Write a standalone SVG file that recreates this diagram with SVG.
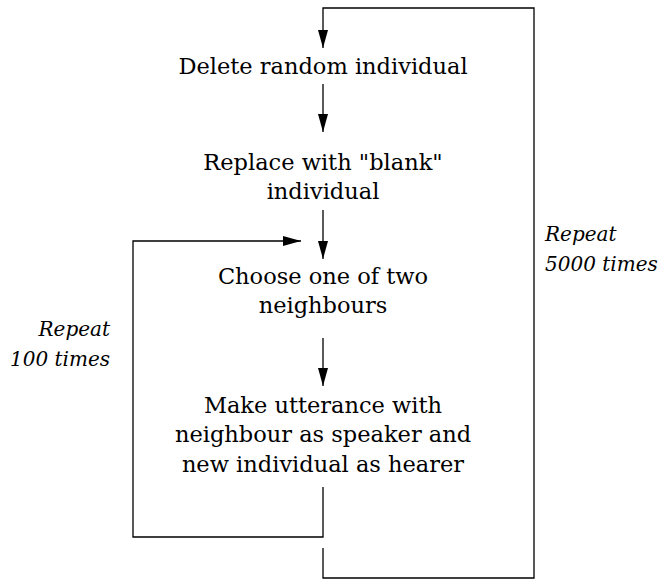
<svg xmlns="http://www.w3.org/2000/svg" width="658" height="581" viewBox="0 0 658 581">
<defs>
<marker id="ah" markerWidth="18" markerHeight="10" refX="18" refY="5" orient="auto" markerUnits="userSpaceOnUse" viewBox="0 0 18 10">
<path d="M0,0 L18,5 L0,10 Z" fill="#000"/>
</marker>
<style>
.t{font-family:"DejaVu Serif","Liberation Serif",serif;font-size:22.5px;fill:#000;text-anchor:middle}
.i{font-family:"DejaVu Serif","Liberation Serif",serif;font-size:20px;font-style:italic;fill:#000}
.c{fill:none;stroke:#000;stroke-width:1.3}
</style>
</defs>
<rect width="658" height="581" fill="#fff"/>
<g id="connectors">
<path class="c" d="M323,548 V578 H534 V8 H323 V48" marker-end="url(#ah)"/>
<path class="c" d="M323,84 V132" marker-end="url(#ah)"/>
<path class="c" d="M323,210 V259" marker-end="url(#ah)"/>
<path class="c" d="M323,338 V386" marker-end="url(#ah)"/>
<path class="c" d="M323,487 V537 H133 V241 H301" marker-end="url(#ah)"/>
</g>
<g id="delete"><text class="t" x="323" y="74">Delete random individual</text></g>
<g id="replace"><text class="t" x="323" y="170">Replace with "blank"</text><text class="t" x="323" y="199">individual</text></g>
<g id="choose"><text class="t" x="323" y="284">Choose one of two</text><text class="t" x="323" y="313">neighbours</text></g>
<g id="utterance"><text class="t" x="323" y="413">Make utterance with</text><text class="t" x="323" y="442">neighbour as speaker and</text><text class="t" x="323" y="472">new individual as hearer</text></g>
<g id="repeat100"><text class="i" x="110" y="336" text-anchor="end">Repeat</text><text class="i" x="110" y="366" text-anchor="end">100 times</text></g>
<g id="repeat5000"><text class="i" x="545" y="241">Repeat</text><text class="i" x="545" y="271">5000 times</text></g>
</svg>
